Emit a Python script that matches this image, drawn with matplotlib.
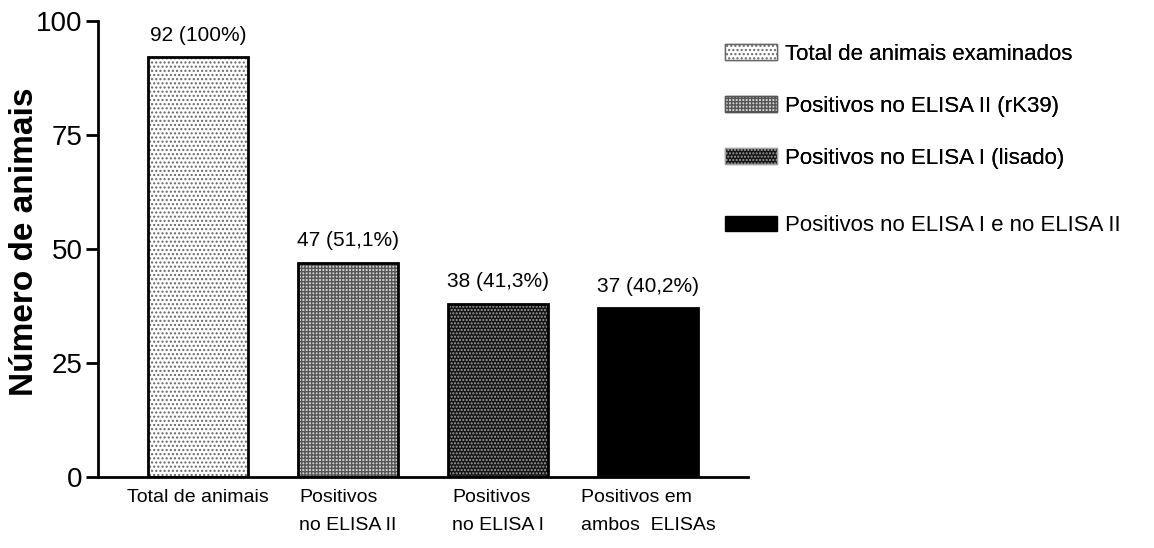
import matplotlib
matplotlib.use("Agg")
import matplotlib.pyplot as plt
from matplotlib.patches import Patch

plt.rcParams["font.family"] = ["Liberation Sans", "DejaVu Sans"]

categories = ["Total de animais", "Positivos\nno ELISA II", "Positivos\nno ELISA I", "Positivos em\nambos  ELISAs"]
counts = [92, 47, 38, 37]
value_labels = ["92 (100%)", "47 (51,1%)", "38 (41,3%)", "37 (40,2%)"]
legend_labels = [
    "Total de animais examinados",
    "Positivos no ELISA II (rK39)",
    "Positivos no ELISA I (lisado)",
    "Positivos no ELISA I e no ELISA II",
]
y_ticks = [0, 25, 50, 75, 100]

# face colour, hatch pattern, hatch colour for each bar
styles = [
    ("white", "....", "#666666"),
    ("#d0d0d0", "+++++", "#555555"),
    ("#151515", ".....", "#a0a0a0"),
    ("black", None, "black"),
]

fig = plt.figure(figsize=(11.54, 5.48), dpi=100)
ax = fig.add_axes([0.0849, 0.1296, 0.5633, 0.8321])

x = range(len(counts))
width = 0.667
for i, (v, (fc, hatch, hc)) in enumerate(zip(counts, styles)):
    ax.bar(i, v, width=width, color=fc, hatch=hatch, edgecolor=hc, linewidth=0, zorder=2)
    ax.bar(i, v, width=width, facecolor="none", edgecolor="black", linewidth=2, zorder=3)
    ax.annotate(value_labels[i], (i, v), xytext=(0, 9), textcoords="offset points",
                ha="center", va="bottom", fontsize=15)

ax.set_xlim(-0.667, 3.667)
ax.set_ylim(0, 100)
ax.set_yticks(y_ticks)
ax.set_yticklabels([str(t) for t in y_ticks], fontsize=20)
ax.set_xticks(list(x))
ax.set_xticklabels(categories, fontsize=14, linespacing=1.8, multialignment="left", va="top")
ax.tick_params(axis="x", length=0, pad=9)
ax.tick_params(axis="y", length=9, width=2, pad=2)
for side in ["top", "right"]:
    ax.spines[side].set_visible(False)
for side in ["left", "bottom"]:
    ax.spines[side].set_linewidth(2)

ax.set_ylabel("Número de animais", fontsize=24, fontweight="bold")
ax.yaxis.set_label_coords(-0.089, 0.515)

handles = []
for fc, hatch, hc in styles:
    handles.append(Patch(facecolor=fc, hatch=hatch, edgecolor=hc if hatch else "black", linewidth=1))

legend_kw = dict(frameon=False, fontsize=16, handlelength=2.35, handleheight=0.7,
                 handletextpad=0.35, loc="upper left")
# first three entries together, the last one set a little further down
top = fig.legend(handles[:3], legend_labels[:3], bbox_to_anchor=(0.611, 0.957),
                 labelspacing=1.4, **legend_kw)
fig.add_artist(top)
fig.legend(handles[3:], legend_labels[3:], bbox_to_anchor=(0.611, 0.644), **legend_kw)

fig.savefig("out.png", dpi=100)
